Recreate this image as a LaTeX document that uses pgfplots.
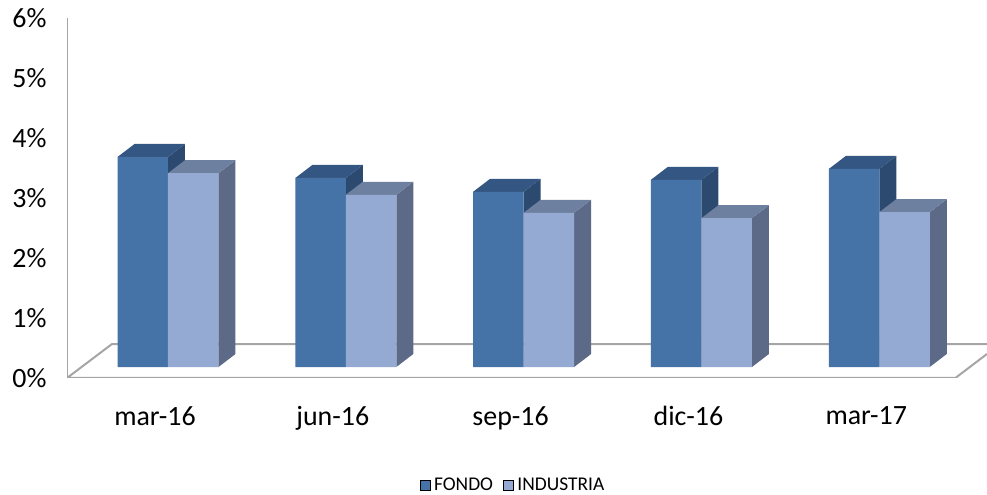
\documentclass[border=0pt]{standalone}
\usepackage{pgfplots}
\pgfplotsset{compat=1.18}
\usepackage{fontspec}
\setmainfont{Carlito}
\definecolor{fF}{RGB}{69,114,167}
\definecolor{fT}{RGB}{52,86,130}
\definecolor{fS}{RGB}{44,73,112}
\definecolor{iF}{RGB}{149,170,210}
\definecolor{iT}{RGB}{110,128,160}
\definecolor{iS}{RGB}{92,106,135}
\definecolor{gl}{RGB}{165,165,165}
\begin{document}
\begin{tikzpicture}
\useasboundingbox (0,0) rectangle (987bp,495bp);
\begin{axis}[
  at={(67bp,117bp)}, anchor=south west,
  scale only axis, width=920bp, height=360bp,
  xmin=-0.568, xmax=4.606, ymin=-0.1833, ymax=5.8167,
  axis line style={draw=none}, major tick length=0pt,
  xtick={0,1,2,3,4},
  xticklabels={mar-16,jun-16,sep-16,dic-16,mar-17},
  ytick={-0.1833,0.8167,1.8167,2.8167,3.8167,4.8167,5.8167},
  yticklabels={0\%,1\%,2\%,3\%,4\%,5\%,6\%},
  tick label style={font=\fontsize{28}{32}\selectfont, text=black},
  xticklabel style={xshift=-13bp, yshift=-25bp},
  yticklabel style={xshift=-17bp},
  unbounded coords=jump,
  legend columns=2,
  legend image code/.code={\fill[#1] (0bp,-5bp) rectangle (10bp,5bp);},
  legend style={draw=none, fill=none, at={(0.4842,-0.298)}, anchor=center,
    font=\fontsize{19.5}{22}\selectfont, nodes={inner sep=1bp},
    /tikz/every odd column/.append style={column sep=3bp},
    /tikz/every even column/.append style={column sep=9bp}},
]
% floor and value axis line
\draw[gl, line width=2bp] (axis cs:4.606,0.217) -- (axis cs:4.428,-0.1833) -- (axis cs:-0.568,-0.1833) -- (axis cs:-0.315,0.383) -- (axis cs:4.606,0.383);
\draw[gl, line width=2bp] (axis cs:-0.568,-0.1833) -- (axis cs:-0.568,5.8167);
% FONDO side faces
\addplot[fill=fS, draw=none, forget plot] coordinates {
(0,0) (0.0956,0.2167) (0.0956,3.7167) (0,3.50) (0,0) (nan,nan)
(1,0) (1.0956,0.2167) (1.0956,3.3667) (1,3.15) (1,0) (nan,nan)
(2,0) (2.0956,0.2167) (2.0956,3.1367) (2,2.92) (2,0) (nan,nan)
(3,0) (3.0956,0.2167) (3.0956,3.3367) (3,3.12) (3,0) (nan,nan)
(4,0) (4.0956,0.2167) (4.0956,3.5167) (4,3.30) (4,0)
};
% FONDO top faces
\addplot[fill=fT, draw=none, forget plot] coordinates {
(-0.284,3.50) (0,3.50) (0.0956,3.7167) (-0.1884,3.7167) (-0.284,3.50) (nan,nan)
(0.716,3.15) (1,3.15) (1.0956,3.3667) (0.8116,3.3667) (0.716,3.15) (nan,nan)
(1.716,2.92) (2,2.92) (2.0956,3.1367) (1.8116,3.1367) (1.716,2.92) (nan,nan)
(2.716,3.12) (3,3.12) (3.0956,3.3367) (2.8116,3.3367) (2.716,3.12) (nan,nan)
(3.716,3.30) (4,3.30) (4.0956,3.5167) (3.8116,3.5167) (3.716,3.30)
};
% FONDO front faces
\addplot[ybar, bar width=0.284, bar shift=-0.142, fill=fF, draw=none, forget plot] coordinates {
(0,3.50) (1,3.15) (2,2.92) (3,3.12) (4,3.30)
};
% INDUSTRIA side faces
\addplot[fill=iS, draw=none, forget plot] coordinates {
(0.284,0) (0.3796,0.2167) (0.3796,3.4467) (0.284,3.23) (0.284,0) (nan,nan)
(1.284,0) (1.3796,0.2167) (1.3796,3.0867) (1.284,2.87) (1.284,0) (nan,nan)
(2.284,0) (2.3796,0.2167) (2.3796,2.7867) (2.284,2.57) (2.284,0) (nan,nan)
(3.284,0) (3.3796,0.2167) (3.3796,2.6967) (3.284,2.48) (3.284,0) (nan,nan)
(4.284,0) (4.3796,0.2167) (4.3796,2.7967) (4.284,2.58) (4.284,0)
};
% INDUSTRIA top faces
\addplot[fill=iT, draw=none, forget plot] coordinates {
(0,3.23) (0.284,3.23) (0.3796,3.4467) (0.0956,3.4467) (0,3.23) (nan,nan)
(1,2.87) (1.284,2.87) (1.3796,3.0867) (1.0956,3.0867) (1,2.87) (nan,nan)
(2,2.57) (2.284,2.57) (2.3796,2.7867) (2.0956,2.7867) (2,2.57) (nan,nan)
(3,2.48) (3.284,2.48) (3.3796,2.6967) (3.0956,2.6967) (3,2.48) (nan,nan)
(4,2.58) (4.284,2.58) (4.3796,2.7967) (4.0956,2.7967) (4,2.58)
};
% INDUSTRIA front faces
\addplot[ybar, bar width=0.284, bar shift=0.142, fill=iF, draw=none, forget plot] coordinates {
(0,3.23) (1,2.87) (2,2.57) (3,2.48) (4,2.58)
};
\addlegendimage{fill=fF}
\addlegendentry{FONDO}
\addlegendimage{fill=iF}
\addlegendentry{INDUSTRIA}
\end{axis}
\end{tikzpicture}
\end{document}
